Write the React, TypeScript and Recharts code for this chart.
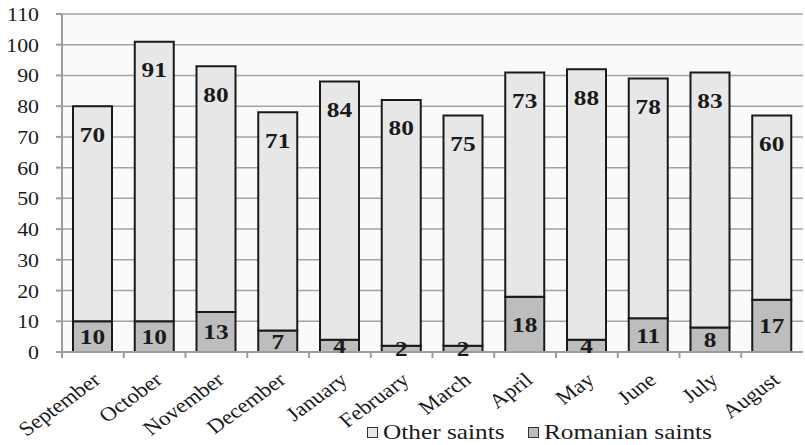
import React from 'react';
import { BarChart, Bar, XAxis, YAxis, CartesianGrid, LabelList } from 'recharts';

// Saints commemorated per month, split into Romanian and other saints
const months = [
  'September', 'October', 'November', 'December', 'January', 'February',
  'March', 'April', 'May', 'June', 'July', 'August',
];
const romanianSaints = [10, 10, 13, 7, 4, 2, 2, 18, 4, 11, 8, 17];
const otherSaints = [70, 91, 80, 71, 84, 80, 75, 73, 88, 78, 83, 60];
const yTicks = [0, 10, 20, 30, 40, 50, 60, 70, 80, 90, 100, 110];
const seriesNames = { other: 'Other saints', romanian: 'Romanian saints' };

const data = months.map((month, i) => ({
  month,
  romanian: romanianSaints[i],
  other: otherSaints[i],
}));

const FONT = 'Liberation Serif, Times New Roman, Times, serif';
const TEXT = '#1a1a1a';
const AXIS = '#9d9d9d';
const OTHER_FILL = '#e7e7e7';
const ROMANIAN_FILL = '#bdbdbd';
const STRETCH = 1.15;

const W = 805;
const H = 445;
const MARGIN = { top: 14, right: 2, left: 0, bottom: 0 };
const Y_AXIS_W = 62;
const X_AXIS_H = 93;
const BAND = (W - MARGIN.left - MARGIN.right - Y_AXIS_W) / months.length;

const YTick = (props: any) => {
  const { x, y, payload } = props;
  return (
    <g transform={`translate(${x},${y + 7})`}>
      <text
        transform={`scale(${STRETCH},1)`}
        textAnchor="end"
        style={{ fontFamily: FONT }}
        fontSize={19}
        fill={TEXT}
      >
        {payload.value}
      </text>
    </g>
  );
};

const XTick = (props: any) => {
  const { x, y, payload } = props;
  const half = payload && typeof payload.offset === 'number' && payload.offset > 0 ? payload.offset : BAND / 2;
  return (
    <g>
      <line x1={x - half} x2={x - half} y1={y} y2={y + 6} stroke={AXIS} strokeWidth={2} />
      <text
        transform={`translate(${x + 9},${y + 30}) scale(${STRETCH},1) rotate(-40)`}
        textAnchor="end"
        style={{ fontFamily: FONT }}
        fontSize={20}
        fill={TEXT}
      >
        {payload.value}
      </text>
    </g>
  );
};

const boxOf = (props: any) => {
  const vb = props.viewBox && typeof props.viewBox.x === 'number' ? props.viewBox : props;
  return { x: Number(vb.x), y: Number(vb.y), width: Number(vb.width), height: Number(vb.height) };
};

const valueText = (cx: number, cy: number, value: any) => (
  <g transform={`translate(${cx},${cy})`}>
    <text
      transform={`scale(${STRETCH},1)`}
      textAnchor="middle"
      dominantBaseline="central"
      style={{ fontFamily: FONT }}
      fontWeight="bold"
      fontSize={22}
      fill={TEXT}
    >
      {value}
    </text>
  </g>
);

const TopLabel = (props: any) => {
  const { x, y, width } = boxOf(props);
  return valueText(x + width / 2, y + 28, props.value);
};

const CenterLabel = (props: any) => {
  const { x, y, width, height } = boxOf(props);
  return valueText(x + width / 2, y + height / 2, props.value);
};

const LegendItem = ({ fill, label, left }: { fill: string; label: string; left: number }) => (
  <div style={{ position: 'absolute', left, top: 420, display: 'flex', alignItems: 'center', height: 24 }}>
    <div
      style={{
        width: 9,
        height: 9,
        background: fill,
        border: '1.5px solid #333',
        marginRight: 5,
      }}
    />
    <span
      style={{
        fontFamily: FONT,
        fontSize: 22,
        color: TEXT,
        display: 'inline-block',
        transform: `scaleX(${STRETCH})`,
        transformOrigin: 'left center',
        whiteSpace: 'nowrap',
        lineHeight: '24px',
      }}
    >
      {label}
    </span>
  </div>
);

export default function App() {
  return (
    <div style={{ position: 'absolute', left: 0, top: 0, width: W, height: H, background: '#fff', fontFamily: FONT }}>
      <BarChart width={W} height={H} data={data} margin={MARGIN} barSize={39} style={{ fontFamily: FONT }}>
        <CartesianGrid
          horizontal
          vertical={false}
          fill="#fafafa"
          stroke="#a3a3a3"
          strokeWidth={1.5}
        />
        <XAxis
          dataKey="month"
          height={X_AXIS_H}
          interval={0}
          tickSize={0}
          tickMargin={0}
          tickLine={false}
          axisLine={{ stroke: AXIS, strokeWidth: 2 }}
          tick={<XTick />}
        />
        <YAxis
          width={Y_AXIS_W}
          domain={[0, 110]}
          ticks={yTicks}
          interval={0}
          tickSize={6}
          tickMargin={17}
          tickLine={{ stroke: AXIS, strokeWidth: 2 }}
          axisLine={{ stroke: AXIS, strokeWidth: 2 }}
          tick={<YTick />}
        />
        <Bar
          dataKey="romanian"
          name={seriesNames.romanian}
          stackId="saints"
          fill={ROMANIAN_FILL}
          stroke="#1a1a1a"
          strokeWidth={2}
          isAnimationActive={false}
        >
          <LabelList dataKey="romanian" content={<CenterLabel />} />
        </Bar>
        <Bar
          dataKey="other"
          name={seriesNames.other}
          stackId="saints"
          fill={OTHER_FILL}
          stroke="#1a1a1a"
          strokeWidth={2}
          isAnimationActive={false}
        >
          <LabelList dataKey="other" content={<TopLabel />} />
        </Bar>
      </BarChart>
      <LegendItem fill={OTHER_FILL} label={seriesNames.other} left={367} />
      <LegendItem fill={ROMANIAN_FILL} label={seriesNames.romanian} left={528} />
    </div>
  );
}
